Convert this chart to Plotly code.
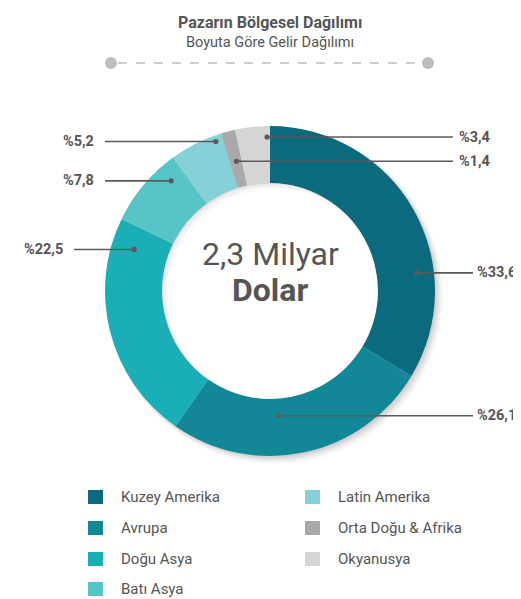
import numpy as np
import plotly.graph_objects as go

# ---------------- data ----------------
regions = ["Kuzey Amerika", "Avrupa", "Doğu Asya", "Batı Asya",
           "Latin Amerika", "Orta Doğu & Afrika", "Okyanusya"]
shares = [33.6, 26.1, 22.5, 7.8, 5.2, 1.4, 3.4]
colors = ["#0b6a7e", "#128797", "#1aafb6", "#57c4c7",
          "#86d1d7", "#a9a9a9", "#d4d6d6"]
title_text = "Pazarın Bölgesel Dağılımı"
subtitle_text = "Boyuta Göre Gelir Dağılımı"
center_line1 = "2,3 Milyar"
center_line2 = "Dolar"

# ---------------- layout helpers ----------------
W, H = 521, 599
FONT = "Roboto, 'Liberation Sans', sans-serif"
TXT = "#555555"


def px(x, y):
    return x / W, 1 - y / H


cx, cy, R_out, R_in = 262, 283, 165, 108

fig = go.Figure()
fig.add_trace(go.Pie(
    labels=regions, values=shares, sort=False, direction="clockwise",
    rotation=0, hole=R_in / R_out, marker=dict(colors=colors, line=dict(width=0)),
    textinfo="none", hoverinfo="label+percent", showlegend=False,
    domain=dict(x=[(cx - R_out) / W, (cx + R_out) / W],
                y=[1 - (cy + R_out) / H, 1 - (cy - R_out) / H]),
))

shapes = []
annotations = []


def circle(x, y, r, fill, layer="above"):
    a0, b0 = px(x - r, y - r)
    a1, b1 = px(x + r, y + r)
    return dict(type="circle", xref="paper", yref="paper", layer=layer,
                x0=a0, x1=a1, y0=b1, y1=b0, fillcolor=fill, line=dict(width=0))


# soft drop shadow under the ring
for off, grow, op in [(5, 3, 0.03), (4, 2, 0.04), (3, 1, 0.05), (2, 0, 0.06)]:
    shapes.append(circle(cx + off, cy + off, R_out + grow, f"rgba(0,0,0,{op})", "below"))

# keep the hole white
shapes.append(circle(cx, cy, R_in - 0.3, "white"))


# inner shadow in the hole (crescent on the upper-left side)
def crescent(off, op):
    d = off * np.sqrt(2)
    a = np.arccos(d / (2 * R_in))
    base = np.pi / 4
    t1 = np.linspace(base + a, base + 2 * np.pi - a, 120)
    arc1 = [(cx + R_in * np.cos(t), cy + R_in * np.sin(t)) for t in t1]
    ocx, ocy = cx + off, cy + off
    p_start, p_end = arc1[-1], arc1[0]
    s0 = np.arctan2(p_start[1] - ocy, p_start[0] - ocx)
    s1 = np.arctan2(p_end[1] - ocy, p_end[0] - ocx)
    mid = np.arctan2(-1, -1)
    cand = [np.linspace(s0, s1, 120), np.linspace(s0, s1 + 2 * np.pi, 120),
            np.linspace(s0, s1 - 2 * np.pi, 120)]
    best = min(cand, key=lambda ss: min(abs(((s - mid + np.pi) % (2 * np.pi)) - np.pi) for s in ss))
    arc2 = [(ocx + R_in * np.cos(s), ocy + R_in * np.sin(s)) for s in best]
    pts = arc1 + arc2
    path = "M " + " L ".join(f"{x / W:.5f},{1 - y / H:.5f}" for x, y in pts) + " Z"
    return dict(type="path", xref="paper", yref="paper", layer="above", path=path,
                fillcolor=f"rgba(0,0,0,{op})", line=dict(width=0))


for off, op in [(6, 0.02), (4, 0.03), (2, 0.04)]:
    shapes.append(crescent(off, op))

# ---------------- leader lines and value labels ----------------
cum = np.concatenate([[0], np.cumsum(shares)]) / sum(shares) * 360.0
# (fraction along slice, radius px, side, line end x px, text anchor x px)
leader = [
    (0.686, 148, "right", 465, 510),
    (0.585, 125, "right", 465, 510),
    (0.890, 142, "left", 66, 57),
    (0.790, 148, "left", 97, 88),
    (0.860, 159, "left", 97, 88),
    (0.550, 134, "right", 445, 449),
    (0.910, 154, "right", 445, 449),
]
for i, (f, r, side, xend, xtxt) in enumerate(leader):
    th = np.radians(cum[i] + f * (cum[i + 1] - cum[i]))
    dx, dy = cx + r * np.sin(th), cy - r * np.cos(th)
    x0, y0 = px(dx, dy)
    x1, _ = px(xend, dy)
    shapes.append(dict(type="line", xref="paper", yref="paper", x0=x0, y0=y0, x1=x1, y1=y0,
                       line=dict(color="#5a5a5a", width=1.6)))
    shapes.append(circle(dx, dy, 2.6, "#5a5a5a"))
    label = "%" + f"{shares[i]:.1f}".replace(".", ",")
    tx, _ = px(xtxt, dy)
    if side == "right":
        xa = "right" if xtxt > 500 else "left"
    else:
        xa = "right"
    annotations.append(dict(x=tx, y=y0, xref="paper", yref="paper", text=f"<b>{label}</b>",
                            showarrow=False, xanchor=xa, yanchor="middle",
                            font=dict(family=FONT, size=14.5, color=TXT)))

# ---------------- title and decoration ----------------
tx, ty = px(262, 14)
annotations.append(dict(x=tx, y=ty, xref="paper", yref="paper", text=f"<b>{title_text}</b>",
                        showarrow=False, xanchor="center", yanchor="middle",
                        font=dict(family=FONT, size=16, color=TXT)))
tx, ty = px(262, 34)
annotations.append(dict(x=tx, y=ty, xref="paper", yref="paper", text=subtitle_text,
                        showarrow=False, xanchor="center", yanchor="middle",
                        font=dict(family=FONT, size=14.5, color=TXT)))
lx0, ly = px(110, 55)
lx1, _ = px(413, 55)
shapes.append(dict(type="line", xref="paper", yref="paper", x0=lx0, x1=lx1, y0=ly, y1=ly,
                   line=dict(color="#bdbdbd", width=1.5, dash="dash")))
for ex in (103, 420):
    shapes.append(circle(ex, 55, 6, "#bdbdbd"))

# centre text
tx, ty = px(262, 246)
annotations.append(dict(x=tx, y=ty, xref="paper", yref="paper", text=center_line1,
                        showarrow=False, xanchor="center", yanchor="middle",
                        font=dict(family=FONT, size=32, color=TXT)))
tx, ty = px(262, 282)
annotations.append(dict(x=tx, y=ty, xref="paper", yref="paper", text=f"<b>{center_line2}</b>",
                        showarrow=False, xanchor="center", yanchor="middle",
                        font=dict(family=FONT, size=32, color=TXT)))

# ---------------- legend (two columns) ----------------
rows_y = [489, 520, 551, 581]
col_x = [80, 297]
for i, name in enumerate(regions):
    col = 0 if i < 4 else 1
    row = i if i < 4 else i - 4
    sx, yy = col_x[col], rows_y[row]
    a0, b0 = px(sx, yy - 7)
    a1, b1 = px(sx + 15, yy + 7)
    shapes.append(dict(type="rect", xref="paper", yref="paper", x0=a0, x1=a1, y0=b1, y1=b0,
                       fillcolor=colors[i], line=dict(width=0)))
    tx, ty = px(sx + 31, yy)
    annotations.append(dict(x=tx, y=ty, xref="paper", yref="paper", text=name,
                            showarrow=False, xanchor="left", yanchor="middle",
                            font=dict(family=FONT, size=15, color=TXT)))

fig.update_layout(
    width=W, height=H, margin=dict(l=0, r=0, t=0, b=0),
    paper_bgcolor="white", plot_bgcolor="white",
    shapes=shapes, annotations=annotations, showlegend=False,
)
fig.write_html("out.html")
